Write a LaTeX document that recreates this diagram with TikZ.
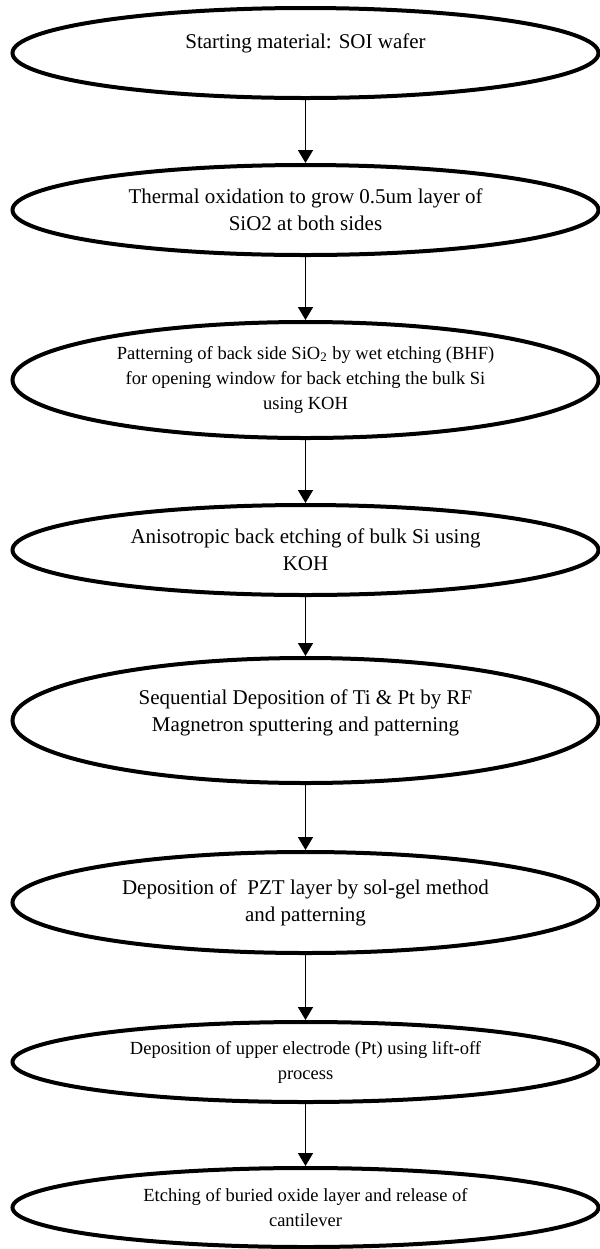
\documentclass[tikz,border=0pt]{standalone}
\usepackage{fontspec}
\setmainfont{Liberation Serif}
\usetikzlibrary{arrows.meta, shapes.geometric}
\newcommand{\bigtxt}{\fontsize{10.5}{13.5}\selectfont}
\newcommand{\smalltxt}{\fontsize{9.25}{12.5}\selectfont}

\begin{document}
\begin{tikzpicture}[
  x=0.5pt, y=-0.5pt,
  stepbox/.style={ellipse,draw,line width=2pt,minimum width=293pt,
                  align=center,inner sep=1pt,font=\bigtxt},
  smallbox/.style={stepbox,font=\smalltxt},
  arr/.style={-{Triangle[width=7.5pt,length=6.5pt]},line width=0.8pt}
]
\useasboundingbox (0,0) rectangle (600,1249);

% ── Process steps ───────────────────────────────────────
\node[stepbox,minimum height=45pt,text depth=12.3pt] (start) at (305.5,53)
  {Starting material: SOI wafer};
\node[stepbox,minimum height=45pt] (oxid) at (305.5,210)
  {Thermal oxidation to grow 0.5um layer of\\SiO2 at both sides};
\node[smallbox,minimum height=58pt] (pattern) at (305.5,380)
  {Patterning of back side SiO\textsubscript{2} by wet etching (BHF)\\
   for opening window for back etching the bulk Si\\using KOH};
\node[stepbox,minimum height=45pt] (koh) at (305.5,550)
  {Anisotropic back etching of bulk Si using\\KOH};
\node[stepbox,minimum height=62.5pt,text depth=10.3pt] (tipt) at (305.5,720.5)
  {Sequential Deposition of Ti \& Pt by RF\\Magnetron sputtering and patterning};
\node[stepbox,minimum height=50.5pt] (pzt) at (305.5,902.5)
  {Deposition of\ \ PZT layer by sol-gel method\\and patterning};
\node[smallbox,minimum height=40pt] (upper) at (305.5,1062)
  {Deposition of upper electrode (Pt) using lift-off\\process};
\node[smallbox,minimum height=39.5pt] (release) at (305.5,1207.5)
  {Etching of buried oxide layer and release of\\cantilever};

% ── Arrows ──────────────────────────────────────────────
\draw[arr] (start)--(oxid);
\draw[arr] (oxid)--(pattern);
\draw[arr] (pattern)--(koh);
\draw[arr] (koh)--(tipt);
\draw[arr] (tipt)--(pzt);
\draw[arr] (pzt)--(upper);
\draw[arr] (upper)--(release);

\end{tikzpicture}
\end{document}
